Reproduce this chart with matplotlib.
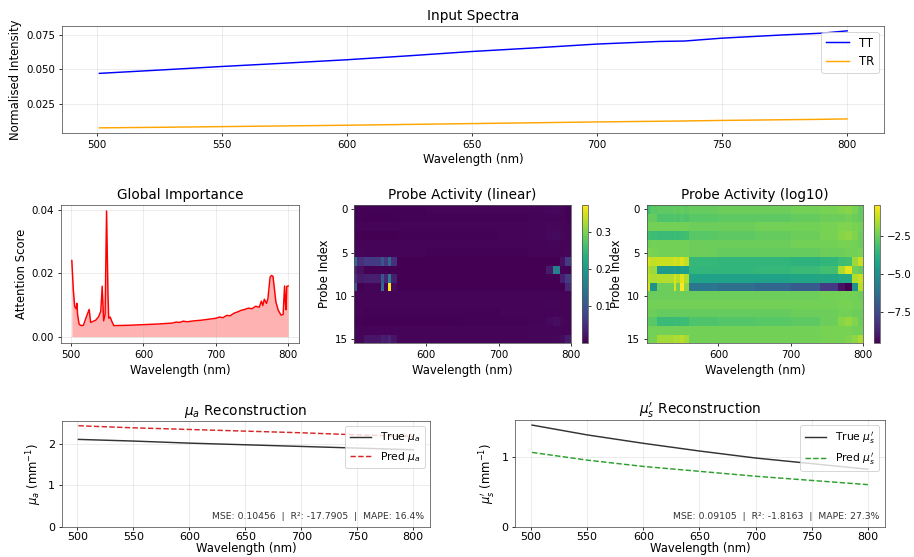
import numpy as np
import matplotlib
matplotlib.use("Agg")
import matplotlib.pyplot as plt

# ---- data ----
spec_wl = [501, 525, 550, 575, 600, 625, 650, 675, 700, 725, 735, 750, 775, 790, 800]
tt = [0.0470, 0.0494, 0.0520, 0.0544, 0.0569, 0.0598, 0.0629, 0.0655, 0.0683, 0.0702, 0.0705, 0.0726, 0.0750, 0.0762, 0.0779]
tr = [0.0074, 0.0078, 0.0083, 0.0088, 0.0093, 0.0099, 0.0105, 0.0111, 0.0117, 0.0122, 0.0124, 0.0128, 0.0133, 0.0136, 0.0139]

imp_wl = [501, 503, 505, 507, 508, 509, 511, 513, 515, 517, 521, 525, 527, 530, 534, 538, 541,
          543, 545, 547, 549, 551, 552, 554, 556, 559, 580, 600, 620, 640, 645, 650, 655, 660,
          670, 680, 690, 700, 705, 710, 715, 720, 725, 730, 735, 740, 745, 750, 755, 760, 763,
          765, 767, 770, 772, 775, 777, 779, 781, 783, 786, 790, 793, 795, 796, 797, 798, 800]
imp = [0.0240, 0.0150, 0.0095, 0.0088, 0.0105, 0.0070, 0.0040, 0.0036, 0.0035, 0.0036, 0.0062, 0.0086,
       0.0045, 0.0048, 0.0052, 0.0063, 0.0080, 0.0159, 0.0050, 0.0070, 0.0396, 0.0130, 0.0058, 0.0062,
       0.0050, 0.0035, 0.0036, 0.0038, 0.0040, 0.0043, 0.0046, 0.0045, 0.0049, 0.0047, 0.0050, 0.0052,
       0.0055, 0.0058, 0.0062, 0.0060, 0.0067, 0.0066, 0.0074, 0.0078, 0.0083, 0.0086, 0.0090, 0.0088,
       0.0096, 0.0093, 0.0112, 0.0098, 0.0118, 0.0105, 0.0120, 0.0188, 0.0193, 0.0190, 0.0150, 0.0110,
       0.0085, 0.0068, 0.0070, 0.0160, 0.0110, 0.0085, 0.0158, 0.0160]

# probe activity (log10), 16 probes x wavelength bins
bin_edges = [501, 505, 515, 538, 542, 547, 552, 560, 600, 650, 700, 740, 765, 775, 785, 792, 800]
probe_log = np.array([
    [-3.3, -2.8, -2.7, -2.6, -2.7, -2.6, -2.7, -2.6, -2.5, -2.5, -2.4, -2.3, -2.2, -2.1, -2.3, -2.6],
    [-2.6, -2.6, -3.0, -2.9, -3.0, -2.9, -3.0, -2.8, -2.7, -2.7, -2.6, -2.5, -2.5, -2.4, -2.5, -2.6],
    [-2.4, -2.4, -2.4, -2.4, -2.4, -2.4, -2.4, -2.5, -2.5, -2.4, -2.4, -2.3, -2.2, -2.2, -2.3, -2.4],
    [-3.2, -3.3, -3.4, -3.3, -3.4, -3.3, -3.2, -2.8, -2.7, -2.6, -2.5, -2.3, -2.1, -2.0, -2.2, -2.5],
    [-2.5, -2.4, -2.4, -2.4, -2.4, -2.4, -2.4, -2.5, -2.5, -2.5, -2.4, -2.4, -2.3, -2.3, -2.4, -2.5],
    [-2.2, -2.3, -2.4, -2.4, -2.4, -2.4, -2.4, -2.5, -2.6, -2.6, -2.6, -2.5, -2.5, -2.4, -2.4, -2.3],
    [-0.9, -1.3, -1.2, -1.0, -1.2, -0.9, -1.3, -3.5, -3.6, -3.6, -3.7, -3.6, -3.3, -3.2, -1.8, -1.2],
    [-1.5, -1.8, -4.6, -4.5, -4.6, -4.4, -4.5, -3.6, -3.6, -3.5, -3.4, -3.2, -1.6, -0.8, -2.4, -2.6],
    [-1.3, -1.6, -1.5, -1.0, -1.4, -0.8, -1.5, -4.3, -4.3, -4.3, -4.2, -4.2, -4.1, -4.1, -1.5, -1.2],
    [-1.0, -5.0, -2.5, -0.9, -2.5, -0.43, -2.0, -6.0, -6.3, -6.6, -7.0, -8.0, -9.2, -9.6, -5.0, -1.4],
    [-2.5, -2.5, -2.5, -2.5, -2.5, -2.5, -2.5, -2.5, -2.5, -2.5, -2.5, -2.4, -2.4, -2.4, -2.4, -2.5],
    [-2.4, -2.4, -2.4, -2.4, -2.4, -2.4, -2.4, -2.4, -2.4, -2.4, -2.4, -2.4, -2.3, -2.3, -2.4, -2.4],
    [-2.5, -2.5, -2.6, -2.6, -2.6, -2.6, -2.6, -2.6, -2.6, -2.6, -2.5, -2.5, -2.4, -2.4, -2.5, -2.5],
    [-2.7, -2.8, -3.4, -3.3, -3.4, -3.3, -3.3, -3.0, -2.9, -2.8, -2.7, -2.5, -2.1, -1.9, -2.2, -2.5],
    [-2.4, -2.4, -2.4, -2.4, -2.4, -2.4, -2.4, -2.4, -2.4, -2.4, -2.4, -2.3, -2.3, -2.3, -2.4, -2.4],
    [-2.5, -2.3, -1.7, -1.5, -1.6, -1.4, -1.7, -2.4, -2.4, -2.4, -2.4, -2.3, -2.3, -2.2, -2.0, -1.6],
])

rec_wl = [501, 550, 600, 650, 700, 750, 800]
mua_true = [2.11, 2.07, 2.02, 1.98, 1.94, 1.90, 1.86]
mua_pred = [2.44, 2.39, 2.35, 2.31, 2.27, 2.22, 2.18]
mus_true = [1.45, 1.31, 1.19, 1.08, 0.98, 0.90, 0.82]
mus_pred = [1.06, 0.95, 0.86, 0.79, 0.72, 0.66, 0.60]
mua_stats = "MSE: 0.10456  |  R²: -17.7905  |  MAPE: 16.4%"
mus_stats = "MSE: 0.09105  |  R²: -1.8163  |  MAPE: 27.3%"

# ---- figure ----
W, H, DPI = 914, 557, 70
fig = plt.figure(figsize=(W / DPI, H / DPI), dpi=DPI)
plt.rcParams['font.size'] = 12


def box(l, t, r, b):
    return [l / W, 1 - b / H, (r - l) / W, (b - t) / H]


def style(ax, size=10.5):
    ax.tick_params(labelsize=size)
    for s in ax.spines.values():
        s.set_color('#555555')


# Input spectra
ax = fig.add_axes(box(62, 26, 884.5, 132.7))
ax.plot(spec_wl, tt, color='blue', lw=1.5, label='TT')
ax.plot(spec_wl, tr, color='orange', lw=1.5, label='TR')
ax.set_yticks([0.025, 0.050, 0.075])
ax.yaxis.set_major_formatter('{x:.3f}')
ax.set_title('Input Spectra', fontsize=14)
ax.set_xlabel('Wavelength (nm)', fontsize=12)
ax.set_ylabel('Normalised Intensity', fontsize=12)
ax.grid(alpha=0.3)
ax.legend(loc='upper right', fontsize=12)
style(ax)

# Global importance
ax = fig.add_axes(box(61, 204.7, 299, 343))
ax.plot(imp_wl, imp, color='red', lw=1.5)
ax.fill_between(imp_wl, imp, color='red', alpha=0.3, lw=0)
ax.set_yticks([0.0, 0.02, 0.04])
ax.set_xticks([500, 600, 700, 800])
ax.set_title('Global Importance', fontsize=14)
ax.set_xlabel('Wavelength (nm)', fontsize=12)
ax.set_ylabel('Attention Score', fontsize=12)
ax.grid(alpha=0.3)
style(ax)

rows = np.arange(17) - 0.5
panels = [
    (10 ** probe_log, 'Probe Activity (linear)', (354.3, 571, 581.7, 588.3), [0.1, 0.2, 0.3]),
    (probe_log, 'Probe Activity (log10)', (646.7, 863.3, 874, 880.3), [-2.5, -5.0, -7.5]),
]
for data, title, (l, r, cl, cr), cticks in panels:
    ax = fig.add_axes(box(l, 205, r, 343.3))
    mesh = ax.pcolormesh(bin_edges, rows, data, cmap='viridis')
    ax.set_ylim(15.5, -0.5)
    ax.set_xlim(bin_edges[0], bin_edges[-1])
    ax.set_xticks([600, 700, 800])
    ax.set_yticks([0, 5, 10, 15])
    ax.set_title(title, fontsize=14)
    ax.set_xlabel('Wavelength (nm)', fontsize=12)
    ax.set_ylabel('Probe Index', fontsize=12)
    style(ax)
    cax = fig.add_axes(box(cl, 205, cr, 343.3))
    cb = fig.colorbar(mesh, cax=cax)
    cb.set_ticks(cticks)
    cb.ax.tick_params(labelsize=10.5)
    cb.outline.set_edgecolor('#555555')

# Reconstructions
recs = [
    (box(61.7, 420.7, 430, 526.7), mua_true, mua_pred, '#d62728', r'$\mu_a$', mua_stats, [0, 1, 2]),
    (box(515.3, 420, 884.7, 526.7), mus_true, mus_pred, '#2ca02c', r"$\mu_s'$", mus_stats, [0, 1]),
]
for rect, true, pred, pc, sym, stats, yt in recs:
    ax = fig.add_axes(rect)
    ax.plot(rec_wl, true, color='black', alpha=0.8, lw=1.5, label='True ' + sym)
    ax.plot(rec_wl, pred, color=pc, ls='--', lw=1.5, label='Pred ' + sym)
    ax.set_ylim(0, max(max(true), max(pred)) * 1.05)
    ax.set_yticks(yt)
    ax.set_title(sym + ' Reconstruction', fontsize=14)
    ax.set_xlabel('Wavelength (nm)', fontsize=12, labelpad=0)
    ax.set_ylabel(sym + r' (mm$^{-1}$)', fontsize=12)
    ax.grid(alpha=0.3)
    ax.legend(loc='upper right', fontsize=11)
    ax.text(0.985, 0.05, stats, transform=ax.transAxes, ha='right', va='bottom',
            fontsize=9.5, color='#333333')
    style(ax, 11.5)
    ax.tick_params(axis='x', pad=2)

fig.savefig('out.png', dpi=DPI)
